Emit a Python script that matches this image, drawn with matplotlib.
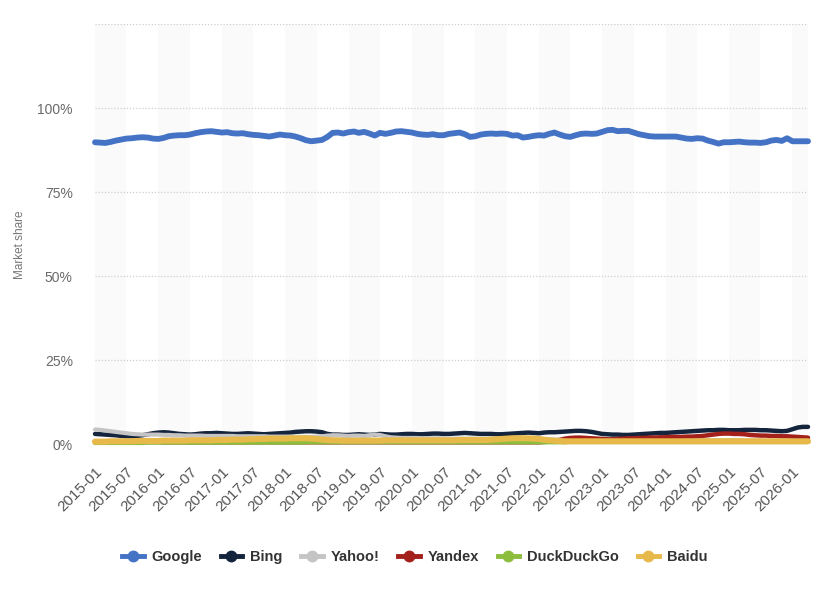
import numpy as np
import pandas as pd
import matplotlib
matplotlib.use("Agg")
import matplotlib.pyplot as plt
import matplotlib.dates as mdates
from matplotlib.lines import Line2D

plt.rcParams['font.family'] = ['Liberation Sans', 'DejaVu Sans']

# monthly market share (%), 2015-01 .. 2026-04
google = [89.8, 89.7, 89.6, 89.9, 90.3, 90.6, 90.9, 91.0, 91.2, 91.3,
          91.2, 90.9, 90.8, 91.1, 91.6, 91.8, 91.9, 91.9, 92.1, 92.5,
          92.8, 93.0, 93.1, 92.9, 92.7, 92.8, 92.5, 92.4, 92.5, 92.2,
          92.0, 91.9, 91.7, 91.5, 91.8, 92.1, 91.9, 91.8, 91.5, 91.0,
          90.4, 90.1, 90.3, 90.5, 91.4, 92.6, 92.7, 92.4, 92.8, 93.0,
          92.6, 92.9, 92.4, 91.8, 92.6, 92.3, 92.6, 93.0, 93.1, 92.9,
          92.7, 92.3, 92.1, 92.0, 92.2, 91.9, 91.9, 92.3, 92.5, 92.7,
          92.2, 91.4, 91.6, 92.1, 92.3, 92.4, 92.3, 92.4, 92.3, 91.8,
          91.9, 91.2, 91.4, 91.7, 91.9, 91.8, 92.3, 92.7, 92.1, 91.6,
          91.4, 91.9, 92.3, 92.4, 92.3, 92.4, 92.9, 93.4, 93.5, 93.1,
          93.2, 93.2, 92.7, 92.2, 91.9, 91.6, 91.5, 91.5, 91.5, 91.5,
          91.5, 91.2, 90.9, 90.8, 91.0, 90.9, 90.3, 89.9, 89.4, 89.8,
          89.8, 89.9, 90.0, 89.8, 89.7, 89.7, 89.6, 89.8, 90.3, 90.5,
          90.2, 91.0, 90.1, 90.1, 90.1, 90.1]
bing = [3.0, 2.9, 2.8, 2.7, 2.6, 2.4, 2.3, 2.3, 2.4, 2.6,
        2.9, 3.2, 3.4, 3.5, 3.4, 3.2, 3.0, 2.9, 2.8, 2.9,
        3.1, 3.2, 3.2, 3.3, 3.2, 3.1, 3.0, 3.0, 3.1, 3.2,
        3.1, 3.0, 2.9, 3.0, 3.1, 3.2, 3.3, 3.4, 3.6, 3.7,
        3.8, 3.8, 3.7, 3.5, 3.0, 2.8, 2.8, 2.7, 2.7, 2.8,
        2.9, 2.8, 2.7, 2.8, 3.0, 2.9, 2.8, 2.8, 2.9, 3.0,
        3.0, 2.9, 2.9, 3.0, 3.1, 3.1, 3.0, 3.0, 3.1, 3.2,
        3.3, 3.2, 3.1, 3.0, 3.0, 3.0, 2.9, 2.9, 3.0, 3.1,
        3.2, 3.3, 3.4, 3.3, 3.2, 3.4, 3.5, 3.5, 3.6, 3.7,
        3.8, 3.9, 3.9, 3.8, 3.6, 3.3, 3.0, 2.9, 2.8, 2.8,
        2.7, 2.7, 2.8, 2.9, 3.0, 3.1, 3.2, 3.3, 3.3, 3.4,
        3.5, 3.6, 3.7, 3.8, 3.9, 4.0, 4.1, 4.1, 4.2, 4.2,
        4.1, 4.1, 4.1, 4.2, 4.2, 4.2, 4.1, 4.1, 4.0, 3.9,
        3.8, 3.9, 4.4, 4.9, 5.1, 5.1]
yahoo = [4.3, 4.2, 4.0, 3.8, 3.6, 3.4, 3.2, 3.0, 2.9, 2.8,
         2.8, 2.8, 2.8, 2.7, 2.7, 2.6, 2.6, 2.5, 2.5, 2.5,
         2.5, 2.4, 2.4, 2.4, 2.4, 2.4, 2.4, 2.3, 2.3, 2.3,
         2.3, 2.3, 2.3, 2.2, 2.2, 2.2, 2.2, 2.2, 2.1, 2.1,
         2.1, 2.1, 2.2, 2.3, 2.5, 2.6, 2.6, 2.5, 2.4, 2.5,
         2.5, 2.4, 2.6, 2.8, 2.7, 2.3, 2.0, 1.9, 1.8, 1.8,
         1.8, 1.8, 1.7, 1.7, 1.7, 1.7, 1.7, 1.6, 1.6, 1.6,
         1.6, 1.6, 1.6, 1.5, 1.5, 1.5, 1.5, 1.5, 1.5, 1.5,
         1.5, 1.5, 1.4, 1.4, 1.4, 1.4, 1.4, 1.3, 1.3, 1.3,
         1.3, 1.3, 1.3, 1.3, 1.3, 1.2, 1.2, 1.2, 1.2, 1.2,
         1.2, 1.2, 1.2, 1.2, 1.2, 1.2, 1.2, 1.1, 1.1, 1.1,
         1.1, 1.1, 1.1, 1.1, 1.1, 1.1, 1.1, 1.1, 1.1, 1.1,
         1.1, 1.1, 1.1, 1.0, 1.0, 1.0, 1.0, 1.0, 1.0, 1.0,
         1.0, 1.0, 1.0, 1.0, 1.0, 1.0]
yandex = [0.5, 0.5, 0.6, 0.6, 0.5, 0.5, 0.5, 0.5, 0.6, 0.6,
          0.6, 0.6, 0.6, 0.5, 0.5, 0.5, 0.5, 0.5, 0.5, 0.5,
          0.5, 0.5, 0.5, 0.5, 0.5, 0.5, 0.5, 0.5, 0.5, 0.5,
          0.5, 0.5, 0.5, 0.5, 0.5, 0.5, 0.5, 0.5, 0.5, 0.5,
          0.5, 0.5, 0.5, 0.5, 0.5, 0.5, 0.5, 0.5, 0.5, 0.5,
          0.5, 0.5, 0.5, 0.5, 0.5, 0.5, 0.5, 0.5, 0.5, 0.5,
          0.5, 0.5, 0.5, 0.5, 0.5, 0.5, 0.5, 0.5, 0.5, 0.5,
          0.5, 0.5, 0.5, 0.5, 0.5, 0.5, 0.5, 0.5, 0.5, 0.5,
          0.5, 0.5, 0.5, 0.5, 0.5, 0.6, 0.7, 0.9, 1.2, 1.6,
          1.8, 1.9, 1.9, 1.8, 1.7, 1.6, 1.5, 1.4, 1.4, 1.5,
          1.6, 1.7, 1.7, 1.8, 1.8, 1.9, 1.9, 2.0, 2.0, 2.1,
          2.1, 2.1, 2.2, 2.2, 2.3, 2.4, 2.6, 2.8, 3.0, 3.1,
          3.1, 3.0, 3.0, 2.9, 2.7, 2.6, 2.5, 2.5, 2.4, 2.4,
          2.3, 2.3, 2.2, 2.1, 2.0, 1.9]
duckduckgo = [0.3, 0.3, 0.3, 0.3, 0.3, 0.3, 0.3, 0.3, 0.3, 0.3,
              0.4, 0.4, 0.4, 0.4, 0.4, 0.4, 0.4, 0.4, 0.4, 0.4,
              0.4, 0.4, 0.4, 0.4, 0.4, 0.4, 0.4, 0.4, 0.4, 0.4,
              0.4, 0.4, 0.4, 0.4, 0.4, 0.4, 0.4, 0.4, 0.4, 0.4,
              0.5, 0.5, 0.5, 0.5, 0.5, 0.5, 0.5, 0.5, 0.5, 0.5,
              0.5, 0.5, 0.5, 0.5, 0.5, 0.5, 0.5, 0.5, 0.5, 0.5,
              0.5, 0.5, 0.5, 0.5, 0.5, 0.5, 0.5, 0.5, 0.5, 0.5,
              0.5, 0.5, 0.5, 0.5, 0.5, 0.5, 0.5, 0.5, 0.5, 0.5,
              0.5, 0.5, 0.5, 0.5, 0.5, 0.5, 0.5, 0.5, 0.5, 0.5,
              0.6, 0.6, 0.6, 0.6, 0.6, 0.6, 0.6, 0.6, 0.6, 0.6,
              0.6, 0.6, 0.6, 0.6, 0.6, 0.6, 0.6, 0.6, 0.6, 0.6,
              0.6, 0.6, 0.6, 0.6, 0.6, 0.6, 0.6, 0.6, 0.6, 0.6,
              0.6, 0.6, 0.6, 0.6, 0.6, 0.6, 0.6, 0.6, 0.6, 0.6,
              0.6, 0.6, 0.6, 0.6, 0.6, 0.6]
baidu = [0.7, 0.7, 0.7, 0.8, 0.8, 0.8, 0.8, 0.8, 0.9, 0.9,
         0.9, 0.9, 0.9, 1.0, 1.0, 1.0, 1.0, 1.0, 1.1, 1.1,
         1.1, 1.1, 1.1, 1.2, 1.2, 1.2, 1.3, 1.3, 1.3, 1.4,
         1.4, 1.5, 1.5, 1.6, 1.6, 1.6, 1.6, 1.7, 1.7, 1.7,
         1.7, 1.6, 1.5, 1.3, 1.2, 1.1, 1.1, 1.0, 1.0, 1.0,
         1.0, 1.0, 1.0, 1.0, 1.0, 1.1, 1.1, 1.1, 1.1, 1.1,
         1.1, 1.1, 1.1, 1.1, 1.1, 1.1, 1.1, 1.1, 1.1, 1.2,
         1.2, 1.2, 1.2, 1.2, 1.2, 1.3, 1.4, 1.5, 1.6, 1.7,
         1.7, 1.7, 1.7, 1.6, 1.5, 1.3, 1.1, 1.0, 0.9, 0.8,
         0.8, 0.8, 0.8, 0.8, 0.8, 0.8, 0.8, 0.8, 0.8, 0.8,
         0.8, 0.8, 0.8, 0.8, 0.8, 0.8, 0.8, 0.8, 0.8, 0.8,
         0.8, 0.8, 0.8, 0.8, 0.8, 0.8, 0.8, 0.8, 0.8, 0.8,
         0.8, 0.8, 0.8, 0.8, 0.8, 0.8, 0.8, 0.8, 0.8, 0.8,
         0.8, 0.8, 0.8, 0.8, 0.8, 0.8]

names = ["Google", "Bing", "Yahoo!", "Yandex", "DuckDuckGo", "Baidu"]
series = [google, bing, yahoo, yandex, duckduckgo, baidu]
colors = ["#4472c4", "#15243d", "#c4c4c4", "#a3201b", "#8cbd3c", "#e7b94a"]
widths = [4.2, 3.2, 3.0, 3.2, 3.0, 4.4]

months = pd.date_range("2015-01-01", periods=len(google), freq="MS")
ticks = pd.date_range("2015-01-01", "2026-01-01", freq="6MS")

fig = plt.figure(figsize=(8.29, 6), dpi=100)
ax = fig.add_axes([0.1146, 0.26, 0.8601, 0.70])

# alternating light bands, first half of each year
for y in range(2015, 2027):
    ax.axvspan(pd.Timestamp(f"{y}-01-01"), pd.Timestamp(f"{y}-07-01"),
               color="#fafafa", lw=0, zorder=0)

for v in [0, 25, 50, 75, 100, 125]:
    ax.axhline(v, color="#cfcfcf", lw=0.9, ls=(0, (1, 1.5)), zorder=1)

for name, vals, c, w in zip(names, series, colors, widths):
    ax.plot(months, vals, color=c, lw=w, solid_capstyle="round",
            solid_joinstyle="round", clip_on=False, zorder=3)

ax.axhline(0, color="#1c1c1c", lw=1.4, zorder=2)

ax.set_xlim(months[0], months[-1])
ax.set_ylim(0, 125)
ax.set_yticks([0, 25, 50, 75, 100, 125])
ax.set_yticklabels(["0%", "25%", "50%", "75%", "100%", ""])
ax.set_xticks(ticks)
ax.xaxis.set_major_formatter(mdates.DateFormatter("%Y-%m"))
plt.setp(ax.get_xticklabels(), rotation=45, ha="right", rotation_mode="anchor")
ax.tick_params(axis="y", length=0, pad=16, labelsize=10, labelcolor="#6a6a6a")
ax.tick_params(axis="x", length=0, pad=15, labelsize=11, labelcolor="#555555")
for s in ax.spines.values():
    s.set_visible(False)

fig.text(20 / 829, 1 - 245 / 600, "Market share", rotation=90, ha="center",
         va="center", fontsize=8.5, color="#777777")

handles = [Line2D([0], [0], color=c, lw=3.5, marker="o", markersize=7.5) for c in colors]
leg = fig.legend(handles, names, loc="center", bbox_to_anchor=(0.5, 1 - 557 / 600),
                 ncol=6, frameon=False, handlelength=1.5, handletextpad=0.5,
                 columnspacing=1.3, prop={"weight": "bold", "size": 10.5})
for t in leg.get_texts():
    t.set_color("#333333")

fig.savefig("out.png", dpi=100, facecolor="white")
